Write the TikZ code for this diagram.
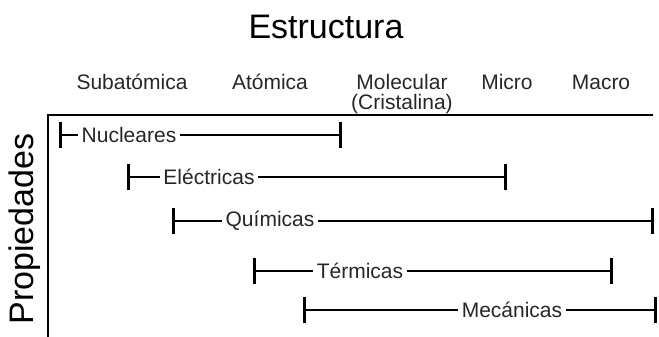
\documentclass[tikz,border=0pt]{standalone}
\usepackage{fontspec}
\setmainfont{Liberation Sans}
\usetikzlibrary{arrows.meta}

\begin{document}
\begin{tikzpicture}[x=0.5pt,y=-0.5pt,
    titulo/.style={font=\fontsize{17}{20}\selectfont,inner sep=0pt,anchor=base},
    nivel/.style={font=\fontsize{10.5}{9.5}\selectfont,text=black!85,inner sep=0pt,anchor=base},
    prop/.style={font=\fontsize{10.5}{12}\selectfont,text=black!85,inner sep=1.5pt},
    barra/.style={line width=1.45pt},
    tope/.style={barra,{Bar[width=13pt]}-},
    fin/.style={barra,-{Bar[width=13pt]}}]
  \useasboundingbox (0,0) rectangle (659,337);
  % titulos
  \node[titulo] (estr) at (326,39) {Estructura};
  \node[titulo,rotate=90] (props) at (33,229) {Propiedades};
  % niveles de estructura
  \node[nivel] (sub) at (132,90) {Subatómica};
  \node[nivel] (ato) at (270,90) {Atómica};
  \node[nivel,align=center] (mol) at (402,109) {Molecular\\(Cristalina)};
  \node[nivel] (mic) at (507,90) {Micro};
  \node[nivel] (mac) at (601,90) {Macro};
  % ejes
  \coordinate (orig) at (48,115);
  \coordinate (ejex) at (653,115);
  \coordinate (ejey) at (48,337);
  \draw[barra] (ejex) -- (orig) -- (ejey);
  % nucleares
  \coordinate (nucA) at (59,135);
  \node[prop] (nuc) at (129,135) {Nucleares};
  \coordinate (nucB) at (342,135);
  \draw[tope] (nucA) -- (nuc);
  \draw[fin] (nuc) -- (nucB);
  % electricas
  \coordinate (eleA) at (127,177);
  \node[prop] (ele) at (209,177) {Eléctricas};
  \coordinate (eleB) at (507,177);
  \draw[tope] (eleA) -- (ele);
  \draw[fin] (ele) -- (eleB);
  % quimicas
  \coordinate (quiA) at (172,221);
  \node[prop] (qui) at (270,221) {Químicas};
  \coordinate (quiB) at (654,221);
  \draw[tope] (quiA) -- (qui);
  \draw[fin] (qui) -- (quiB);
  % termicas
  \coordinate (terA) at (253,271);
  \node[prop] (ter) at (360,271) {Térmicas};
  \coordinate (terB) at (613,271);
  \draw[tope] (terA) -- (ter);
  \draw[fin] (ter) -- (terB);
  % mecanicas
  \coordinate (mecA) at (303,310);
  \node[prop] (mec) at (512,310) {Mecánicas};
  \coordinate (mecB) at (657,310);
  \draw[tope] (mecA) -- (mec);
  \draw[fin] (mec) -- (mecB);
\end{tikzpicture}
\end{document}
